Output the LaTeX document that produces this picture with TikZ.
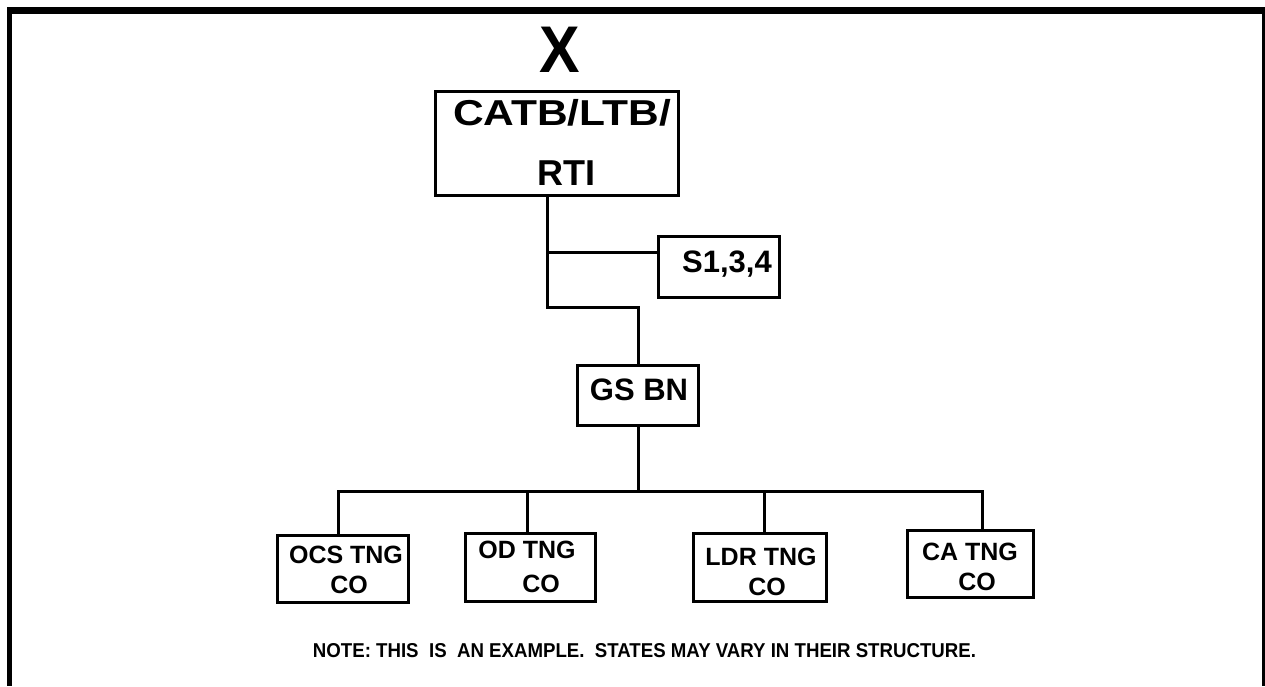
\documentclass[tikz,border=0pt]{standalone}
\usepackage{fontspec}
\setmainfont{Liberation Sans}
\usetikzlibrary{calc}
\begin{document}
\begin{tikzpicture}[x=1pt,y=-1pt,
  box/.style={draw, line width=3pt, inner sep=0pt},
  txt/.style={inner sep=0pt, anchor=base, font=\bfseries},
  link/.style={line width=3pt, line join=miter}]
\useasboundingbox (0,0) rectangle (1265,686);
% frame
\draw[line width=7pt] (7,10.5) -- (1265,10.5);
\draw[line width=5pt] (9.5,7) -- (9.5,686);
\draw[line width=3pt] (1263.5,10) -- (1263.5,686);
% title
\node[txt] (tx) at (560,72) {\scalebox{0.92}[1]{\fontsize{66}{66}\selectfont X}};
% boxes
\node[box, minimum width=243pt, minimum height=104pt] (catb) at (556.5,143) {};
\node[box, minimum width=121pt, minimum height=61pt] (s) at (718.5,266.5) {};
\node[box, minimum width=121pt, minimum height=60pt] (gs) at (638,395) {};
\node[box, minimum width=131pt, minimum height=67pt] (ocs) at (342.5,568.5) {};
\node[box, minimum width=130pt, minimum height=68pt] (od) at (530,567) {};
\node[box, minimum width=133pt, minimum height=68pt] (ldr) at (759.5,567) {};
\node[box, minimum width=126pt, minimum height=67pt] (ca) at (970,563.5) {};
% texts
\node[txt] (t1) at (562,125) {\scalebox{1.18}[1]{\fontsize{36}{36}\selectfont CATB/LTB/}};
\node[txt] (t2) at (566,185) {\fontsize{36}{36}\selectfont RTI};
\node[txt] (t3) at (727,272) {\fontsize{31}{31}\selectfont S1,3,4};
\node[txt] (t4) at (639,400) {\fontsize{31}{31}\selectfont GS BN};
\node[txt] (t5) at (346,563) {\fontsize{25}{25}\selectfont OCS TNG};
\node[txt] (t6) at (349,593) {\fontsize{25}{25}\selectfont CO};
\node[txt] (t7) at (527,558) {\fontsize{25}{25}\selectfont OD TNG};
\node[txt] (t8) at (541,592) {\fontsize{25}{25}\selectfont CO};
\node[txt] (t9) at (761,565) {\fontsize{25}{25}\selectfont LDR TNG};
\node[txt] (t10) at (767,595) {\fontsize{25}{25}\selectfont CO};
\node[txt] (t11) at (970,560) {\fontsize{25}{25}\selectfont CA TNG};
\node[txt] (t12) at (977,590) {\fontsize{25}{25}\selectfont CO};
\node[txt] (note) at (644.5,657) {\resizebox{663pt}{14pt}{NOTE: THIS\ \ IS\ \ AN EXAMPLE.\ \ STATES MAY VARY IN THEIR STRUCTURE.}};
% connectors
\coordinate (j1) at (547,307);
\coordinate (bus) at (636,491);
\draw[link] (j1 |- catb.south) -- (j1) -| (gs.north);
\draw[link] ($(s.north west)!0.28!(s.south west)$) -| (j1);
\draw[link] (gs.south) -- (gs.south |- bus);
\draw[link] ($(ocs.north west)!0.47!(ocs.north east)$) |- (bus) -| ($(ca.north west)!0.6!(ca.north east)$);
\draw[link] ($(od.north west)!0.48!(od.north east)$) -- ++(0,-42);
\draw[link] ($(ldr.north west)!0.54!(ldr.north east)$) -- ++(0,-42);
\end{tikzpicture}
\end{document}
